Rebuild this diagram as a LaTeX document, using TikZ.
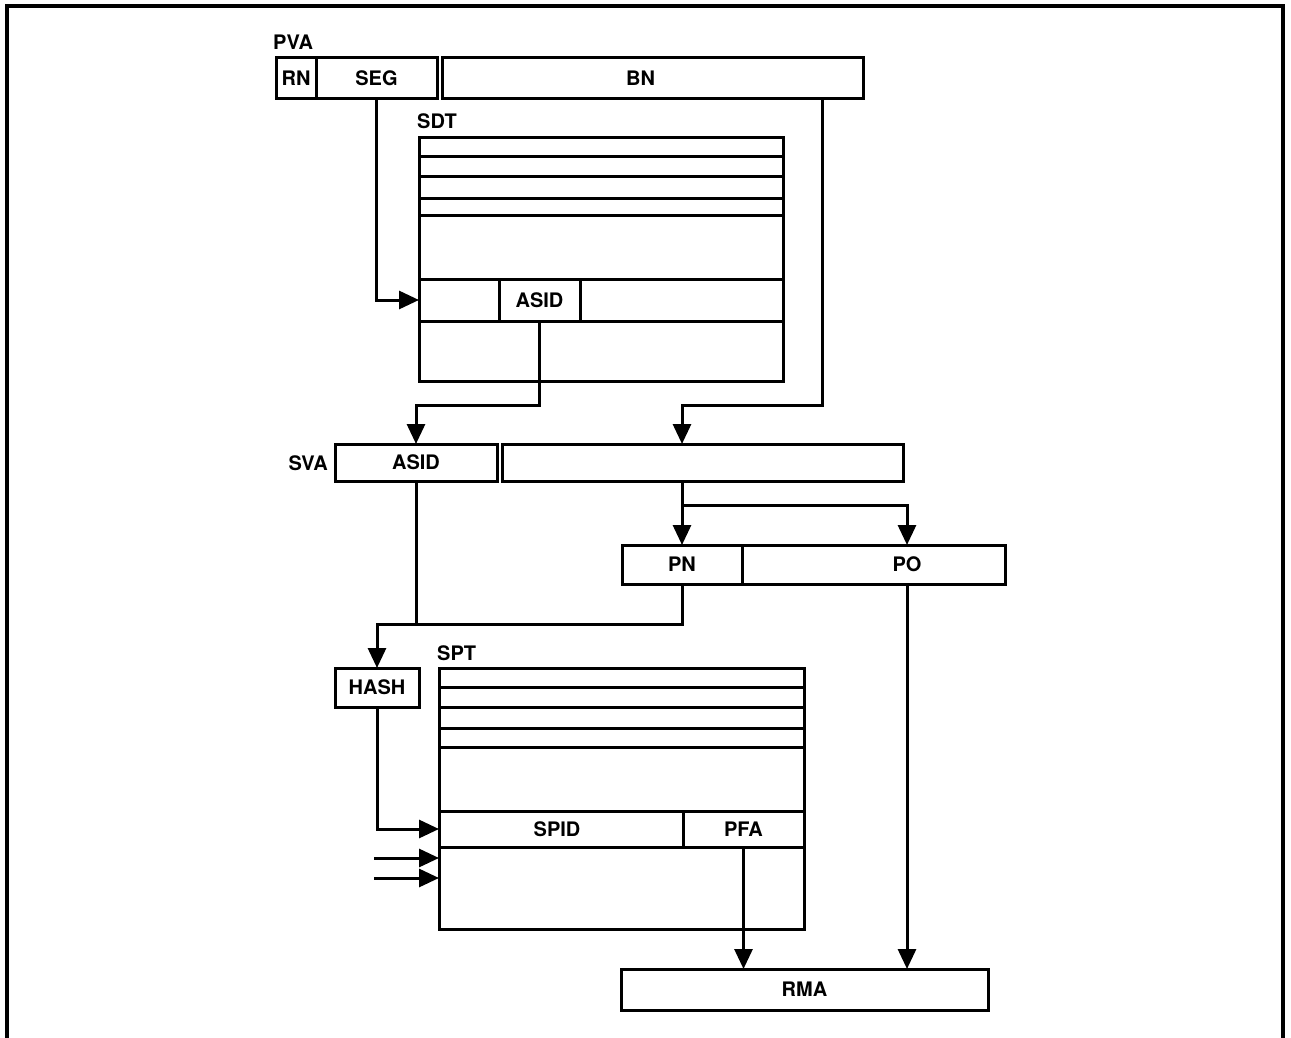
\documentclass[tikz,border=0pt]{standalone}
\usepackage{fontspec}
\setmainfont{TeX Gyre Heros}
\usetikzlibrary{arrows.meta,calc}
\begin{document}
\begin{tikzpicture}[x=1pt,y=-1pt,
  every node/.style={font=\fontsize{20}{22}\selectfont\bfseries},
  cell/.style={draw, line width=3pt, inner sep=0pt, outer sep=0pt},
  ln/.style={line width=3pt},
  conn/.style={line width=3pt, line join=miter},
  arr/.style={conn, -{Triangle[length=20pt,width=18pt]}},
  tag/.style={anchor=base west, inner sep=0pt}]
\useasboundingbox (0,0) rectangle (1291,1038);
% frame
\draw[line width=3.2pt] (7,1040) -- (7,6) -- (1283,6) -- (1283,1040);

% PVA
\node[tag] (pvalbl) at (273,50) {PVA};
\node[cell, minimum width=40pt, minimum height=41pt] (rn) at (296,78.5) {RN};
\node[cell, minimum width=121pt, minimum height=41pt] (seg) at (376.5,78.5) {SEG};
\node[cell, minimum width=421pt, minimum height=41pt] (bn) at (652.5,78.5) {};
\node (bnlbl) at ($(bn.center)+(-12,0)$) {BN};

% SDT
\node[tag] (sdtlbl) at (417,129) {SDT};
\node[cell, minimum width=364pt, minimum height=243pt] (sdt) at (601,259.5) {};
\foreach \d in {19,39,60,77}
  \draw[ln] ($(sdt.north west)+(0,\d)$) -- ($(sdt.north east)+(0,\d)$);
\node[cell, minimum width=364pt, minimum height=42pt] (sdtrow) at (601,300) {};
\node[cell, minimum width=81pt, minimum height=42pt] (sdtasid) at (539.5,300) {ASID};

% SVA
\node[anchor=east, inner sep=0pt] (svalbl) at (328,463) {SVA};
\node[cell, minimum width=162pt, minimum height=37pt] (svaasid) at (416,462.5) {ASID};
\node[cell, minimum width=401pt, minimum height=37pt] (svarest) at (702.5,462.5) {};

% PN / PO
\node[cell, minimum width=120pt, minimum height=39pt] (pn) at (682,564.5) {PN};
\node[cell, minimum width=263pt, minimum height=39pt] (po) at (873.5,564.5) {};
\node (polbl) at ($(po.center)+(33.5,0)$) {PO};

% HASH
\node[cell, minimum width=84pt, minimum height=39pt] (hash) at (377,687.5) {HASH};

% SPT
\node[tag] (sptlbl) at (437,660) {SPT};
\node[cell, minimum width=365pt, minimum height=261pt] (spt) at (621.5,798.5) {};
\foreach \d in {19,39,60,79}
  \draw[ln] ($(spt.north west)+(0,\d)$) -- ($(spt.north east)+(0,\d)$);
\node[cell, minimum width=365pt, minimum height=36pt] (sptrow) at (621.5,829) {};
\node[cell, minimum width=244pt, minimum height=36pt] (spid) at (561,829) {};
\node (spidlbl) at ($(spid.center)+(-4,0)$) {SPID};
\node[cell, minimum width=121pt, minimum height=36pt] (pfa) at (743.5,829) {PFA};

% RMA
\node[cell, minimum width=367pt, minimum height=41pt] (rma) at (804.5,989.5) {RMA};

% coordinates for junctions
\coordinate (bnout) at ($(bn.south east)+(-41,0)$);
\coordinate (svain) at ($(svarest.north west)+(180,0)$);
\coordinate (svaout) at ($(svarest.south west)+(180,0)$);
\coordinate (poin) at ($(po.north)+(33.5,0)$);
\coordinate (poout) at ($(po.south)+(33.5,0)$);
\coordinate (e1) at (374,858);
\coordinate (e2) at (374,878);

% connectors
\draw[arr] (seg.south) |- (sdtrow.west);
\draw[arr] (bnout) -- ($(bnout)+(0,306)$) -| (svain);
\draw[arr] (sdtasid.south) -- ++(0,84) -| (svaasid.north);
\draw[arr] (svaout) -- (pn.north);
\draw[arr] ($(svaout)+(0,24)$) -| (poin);
\draw[arr] (pn.south) -- ++(0,40) -| (hash.north);
\draw[conn] (svaasid.south) -- ($(svaasid.south)+(0,143)$);
\draw[arr] (hash.south) |- (sptrow.west);
\draw[arr] (e1) -- (e1 -| spt.west);
\draw[arr] (e2) -- (e2 -| spt.west);
\draw[arr] (pfa.south) -- (pfa.south |- rma.north);
\draw[arr] (poout) -- (poout |- rma.north);
\end{tikzpicture}
\end{document}
